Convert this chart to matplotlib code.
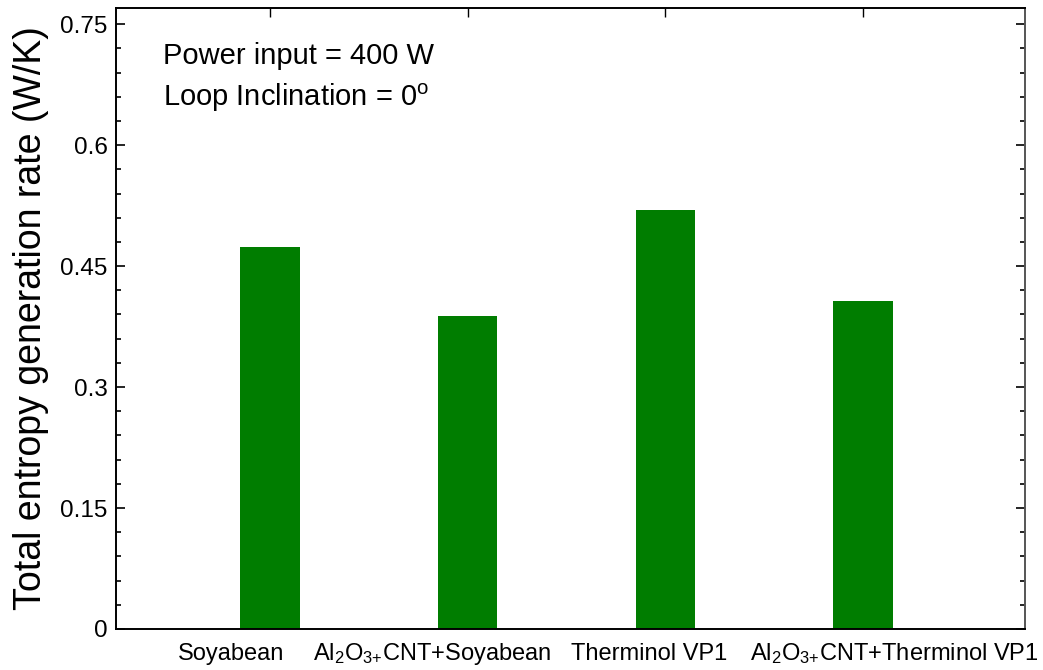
import matplotlib
matplotlib.use("Agg")
import matplotlib.pyplot as plt
from matplotlib.ticker import MultipleLocator, FixedFormatter, FixedLocator

plt.rcParams["font.family"] = ["Liberation Sans", "DejaVu Sans"]
plt.rcParams["mathtext.fontset"] = "custom"
plt.rcParams["mathtext.rm"] = "Liberation Sans"
plt.rcParams["mathtext.it"] = "Liberation Sans:italic"
plt.rcParams["mathtext.bf"] = "Liberation Sans:bold"

# fluids and entropy generation (W/K)
fluids = ["Soyabean", r"Al$_2$O$_{3{+}}$CNT+Soyabean", "Therminol VP1",
          r"Al$_2$O$_{3{+}}$CNT+Therminol VP1"]
entropy_rate = [0.474, 0.388, 0.519, 0.407]
ytick_vals = [0, 0.15, 0.3, 0.45, 0.6, 0.75]
ytick_text = ["0", "0.15", "0.3", "0.45", "0.6", "0.75"]

x = [1, 2, 3, 4]
label_x = [0.80, 1.82, 2.92, 4.16]

fig = plt.figure(figsize=(10.43, 6.70), dpi=100)
ax = fig.add_axes([0.1112, 0.0612, 0.8715, 0.9268])

ax.bar(x, entropy_rate, width=0.3, color="#007d00", edgecolor="none", zorder=2)

ax.set_xlim(0.22, 4.82)
ax.set_ylim(0, 0.77)

ax.yaxis.set_major_locator(FixedLocator(ytick_vals))
ax.yaxis.set_major_formatter(FixedFormatter(ytick_text))
ax.yaxis.set_minor_locator(MultipleLocator(0.03))
ax.tick_params(axis="y", which="both", direction="in", left=True, right=True,
               labelsize=17.5, width=1.2, color="black", pad=6)
ax.tick_params(axis="y", which="major", length=6.5)
ax.tick_params(axis="y", which="minor", length=3.6)

ax.set_xticks(x)
ax.tick_params(axis="x", direction="in", top=True, bottom=False,
               labelbottom=False, length=6.5, width=1.0)

for xl, name in zip(label_x, fluids):
    ax.text(xl, -0.04, name, transform=ax.get_xaxis_transform(),
            ha="center", va="center", fontsize=17)

for s in ax.spines.values():
    s.set_linewidth(1.4)
ax.spines["right"].set_color("#555555")

ax.set_ylabel("Total entropy generation rate (W/K)", fontsize=27, labelpad=8)

ax.text(0.0517, 0.91, "Power input = 400 W", transform=ax.transAxes,
        fontsize=21, ha="left", va="baseline")
ax.text(0.0517, 0.843, r"Loop Inclination = 0$^\mathregular{o}$",
        transform=ax.transAxes, fontsize=21, ha="left", va="baseline")

fig.savefig("out.png", dpi=100)
